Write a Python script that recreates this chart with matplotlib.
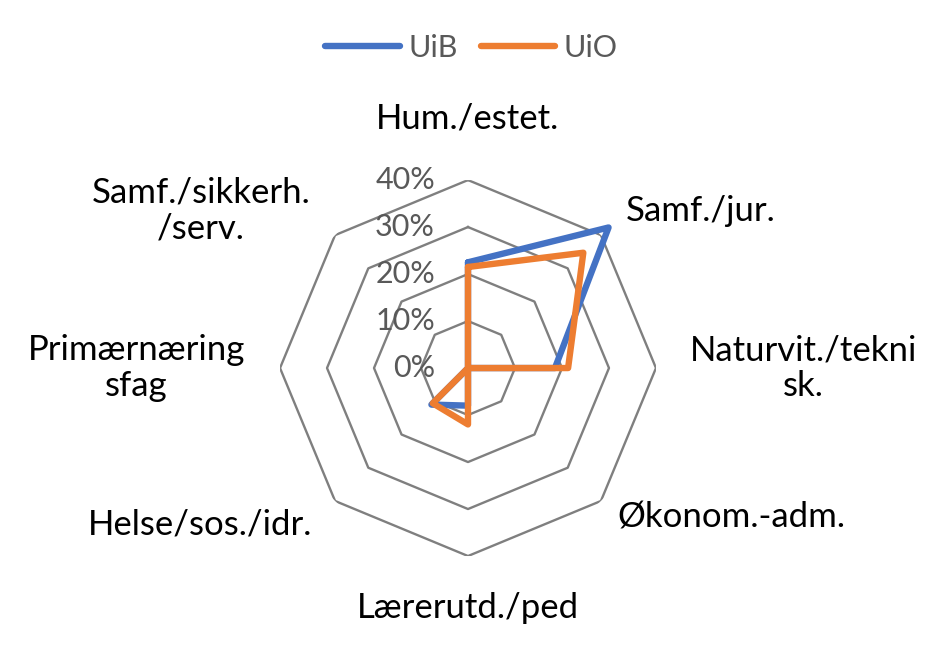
import matplotlib.pyplot as plt
import numpy as np

categories = ["Hum./estet.", "Samf./jur.", "Naturvit./tekni\nsk.", "Økonom.-adm.",
              "Lærerutd./ped", "Helse/sos./idr.", "Primærnæring\nsfag",
              "Samf./sikkerh.\n/serv."]
uib = [0.225, 0.423, 0.185, 0.0, 0.08, 0.11, 0.0, 0.0]
uio = [0.215, 0.347, 0.213, 0.0, 0.12, 0.106, 0.0, 0.0]
rings = [0.0, 0.1, 0.2, 0.3, 0.4]
ring_labels = ["0%", "10%", "20%", "30%", "40%"]

plt.rcParams['font.family'] = ['Lato', 'DejaVu Sans']

n = len(categories)
theta = np.arange(n) * 2 * np.pi / n
closed = np.append(theta, theta[0])

fig = plt.figure(figsize=(9.39, 6.47), dpi=100)
ax = fig.add_axes([0.2982, 0.1406, 0.4004, 0.5811], projection='polar')
ax.set_theta_zero_location('N')
ax.set_theta_direction(-1)
ax.set_ylim(0, 0.4)
ax.grid(False)
ax.spines['polar'].set_visible(False)
ax.set_xticks([])
ax.set_yticks([])

# octagon gridlines
for r in rings[1:]:
    ax.plot(closed, [r] * (n + 1), color='#7f7f7f', lw=1.7, zorder=1)

# value axis labels
for r, lab in zip(rings, ring_labels):
    ax.annotate(lab, xy=(0, r), xytext=(-33, 0), textcoords='offset pixels',
                ha='right', va='center', fontsize=22, color='#595959')

ax.plot(closed, uib + uib[:1], color='#4472c4', lw=4.6, label='UiB', clip_on=False,
        solid_joinstyle='round', solid_capstyle='round', zorder=3)
ax.plot(closed, uio + uio[:1], color='#ed7d31', lw=4.6, label='UiO', clip_on=False,
        solid_joinstyle='round', solid_capstyle='round', zorder=4)

# category labels: (radius, ha)
placement = [(0.53, 'center'), (0.474, 'left'), (0.472, 'left'), (0.45, 'left'),
             (0.51, 'center'), (0.47, 'right'), (0.475, 'right'), (0.475, 'right')]
for t, lab, (r, ha) in zip(theta, categories, placement):
    ax.text(t, r, lab, ha=ha, va='center', multialignment='center', fontsize=25,
            linespacing=1.15, color='black', clip_on=False)

fig.legend(loc='upper center', bbox_to_anchor=(0.502, 0.99), ncol=2, frameon=False,
           fontsize=22, handlelength=2.45, columnspacing=0.75, handletextpad=0.26,
           labelcolor='#595959')

fig.savefig('out.png', dpi=100)
